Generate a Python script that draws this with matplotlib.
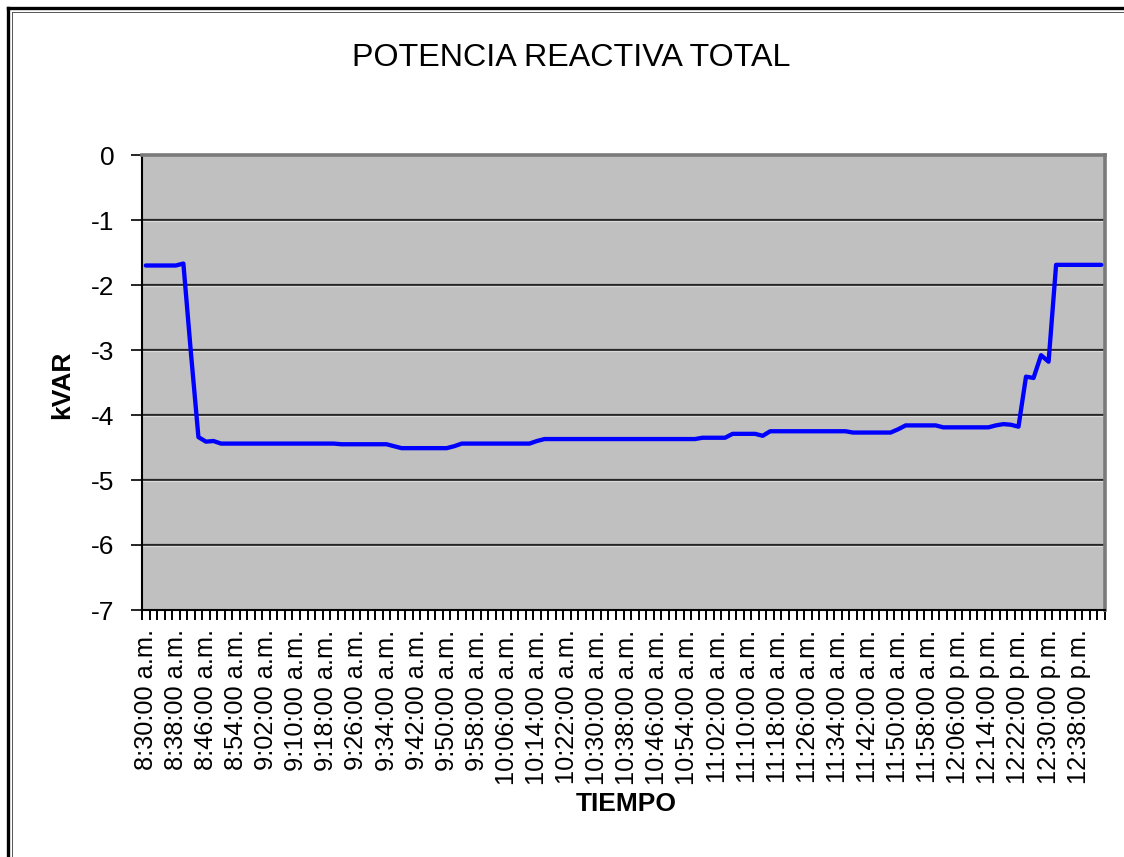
import matplotlib
matplotlib.use("Agg")
import matplotlib.pyplot as plt
from matplotlib.lines import Line2D
import numpy as np

plt.rcParams['font.family'] = ['Liberation Sans', 'DejaVu Sans']

# Reactive power readings, one every 2 minutes starting at 8:30 a.m. (kVAR)
kvar = [
    -1.70, -1.70, -1.70, -1.70, -1.70, -1.67, -3.04, -4.34, -4.41, -4.40,
    -4.44, -4.44, -4.44, -4.44, -4.44, -4.44, -4.44, -4.44, -4.44, -4.44,
    -4.44, -4.44, -4.44, -4.44, -4.44, -4.44, -4.45, -4.45, -4.45, -4.45,
    -4.45, -4.45, -4.45, -4.48, -4.51, -4.51, -4.51, -4.51, -4.51, -4.51,
    -4.51, -4.48, -4.44, -4.44, -4.44, -4.44, -4.44, -4.44, -4.44, -4.44,
    -4.44, -4.44, -4.40, -4.37, -4.37, -4.37, -4.37, -4.37, -4.37, -4.37,
    -4.37, -4.37, -4.37, -4.37, -4.37, -4.37, -4.37, -4.37, -4.37, -4.37,
    -4.37, -4.37, -4.37, -4.37, -4.35, -4.35, -4.35, -4.35, -4.29, -4.29,
    -4.29, -4.29, -4.32, -4.25, -4.25, -4.25, -4.25, -4.25, -4.25, -4.25,
    -4.25, -4.25, -4.25, -4.25, -4.27, -4.27, -4.27, -4.27, -4.27, -4.27,
    -4.22, -4.16, -4.16, -4.16, -4.16, -4.16, -4.19, -4.19, -4.19, -4.19,
    -4.19, -4.19, -4.19, -4.16, -4.14, -4.15, -4.18, -3.41, -3.43, -3.08,
    -3.18, -1.69, -1.69, -1.69, -1.69, -1.69, -1.69, -1.69,
]

# Category labels, shown every 4th reading (every 8 minutes)
time_labels = [
    "8:30:00 a.m.", "8:38:00 a.m.", "8:46:00 a.m.", "8:54:00 a.m.",
    "9:02:00 a.m.", "9:10:00 a.m.", "9:18:00 a.m.", "9:26:00 a.m.",
    "9:34:00 a.m.", "9:42:00 a.m.", "9:50:00 a.m.", "9:58:00 a.m.",
    "10:06:00 a.m.", "10:14:00 a.m.", "10:22:00 a.m.", "10:30:00 a.m.",
    "10:38:00 a.m.", "10:46:00 a.m.", "10:54:00 a.m.", "11:02:00 a.m.",
    "11:10:00 a.m.", "11:18:00 a.m.", "11:26:00 a.m.", "11:34:00 a.m.",
    "11:42:00 a.m.", "11:50:00 a.m.", "11:58:00 a.m.", "12:06:00 p.m.",
    "12:14:00 p.m.", "12:22:00 p.m.", "12:30:00 p.m.", "12:38:00 p.m.",
]
label_step = 4

y_ticks = [0, -1, -2, -3, -4, -5, -6, -7]

W, H = 1124, 857
fig = plt.figure(figsize=(W / 100, H / 100), dpi=100)
fig.patch.set_facecolor('white')

left, right, top, bottom = 142, 1105, 155, 610
ax = fig.add_axes([left / W, 1 - bottom / H, (right - left) / W, (bottom - top) / H])
ax.set_facecolor('#C0C0C0')

n = len(kvar)
x = np.arange(n)
ax.plot(x, kvar, color='#0000FF', lw=3.1, solid_joinstyle='round',
        solid_capstyle='round', zorder=3)

ax.set_xlim(-0.5, n - 0.5)
ax.set_ylim(-7, 0)

# horizontal gridlines
for v in y_ticks[1:-1]:
    ax.axhline(v, color='#262626', lw=1.6, zorder=1)
    ax.axhline(v - 0.016, color='#dadada', lw=0.9, zorder=1)

ax.set_yticks(y_ticks)
ax.set_yticklabels([str(v) for v in y_ticks], fontsize=19)
ax.tick_params(axis='y', direction='out', length=8, width=1.2, pad=12, color='black')

label_pos = np.arange(0, len(time_labels) * label_step, label_step)
ax.set_xticks(label_pos)
ax.set_xticklabels(time_labels, rotation=90, fontsize=18.3)
ax.set_xticks(np.arange(-0.5, n, 1), minor=True)
ax.tick_params(axis='x', which='major', length=0, pad=14)
ax.tick_params(axis='x', which='minor', direction='out', length=7, width=1.4, color='black')

for side in ('left', 'bottom'):
    ax.spines[side].set_color('black')
    ax.spines[side].set_linewidth(1.5)
for side in ('top', 'right'):
    ax.spines[side].set_color('#7a7a7a')
    ax.spines[side].set_linewidth(2.6)

fig.text(571 / W, 1 - 58 / H, "POTENCIA REACTIVA TOTAL", ha='center', va='center',
         fontsize=23.2)
fig.text(626 / W, 1 - 804 / H, "TIEMPO", ha='center', va='center',
         fontsize=19, fontweight='bold')
fig.text(62 / W, 1 - 385 / H, "kVAR", ha='center', va='center', rotation=90,
         fontsize=19, fontweight='bold')

# chart frame along the top and left edges
fig.add_artist(Line2D([8 / W, 1.0], [1 - 8 / H, 1 - 8 / H], color='black', lw=2.4,
                      transform=fig.transFigure))
fig.add_artist(Line2D([8 / W, 8 / W], [0.0, 1 - 8 / H], color='black', lw=2.4,
                      transform=fig.transFigure))
fig.add_artist(Line2D([11.5 / W, 1.0], [1 - 11.5 / H, 1 - 11.5 / H], color='#555555',
                      lw=0.7, transform=fig.transFigure))
fig.add_artist(Line2D([11.5 / W, 11.5 / W], [0.0, 1 - 11.5 / H], color='#555555',
                      lw=0.7, transform=fig.transFigure))

fig.savefig("out.png", dpi=100, facecolor='white')
